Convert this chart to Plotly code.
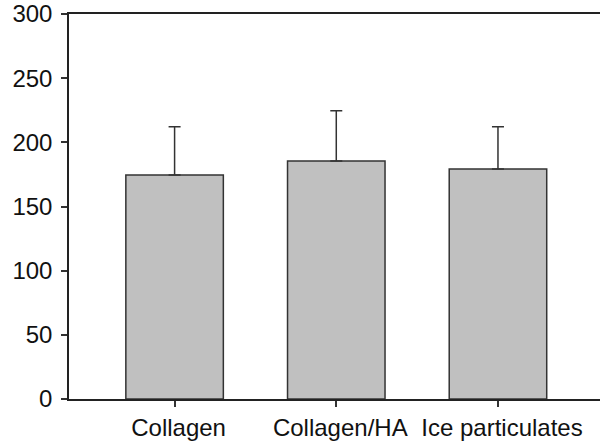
import plotly.graph_objects as go

categories = ["Collagen", "Collagen/HA", "Ice particulates"]
means = [174.6, 185.5, 179.3]
errors_plus = [37.6, 39.2, 32.9]
y_ticks = [0, 50, 100, 150, 200, 250, 300]

fig = go.Figure(go.Bar(
    x=[0, 1, 2],
    y=means,
    width=0.603,
    marker=dict(color="#c0c0c0", line=dict(color="#333333", width=1.5)),
    error_y=dict(type="data", array=errors_plus, arrayminus=[0, 0, 0],
                 symmetric=False, color="#333333", thickness=1.5, width=6),
))

fig.update_layout(
    width=600, height=441,
    margin=dict(l=69, r=0, t=14, b=42),
    paper_bgcolor="white", plot_bgcolor="white",
    showlegend=False,
    font=dict(family="Liberation Sans, Arial, sans-serif", size=24, color="#111111"),
)
fig.update_xaxes(
    range=[-0.653, 2.631],
    tickmode="array", tickvals=[0, 1, 2], ticktext=categories,
    ticks="outside", ticklen=6, tickwidth=1.5, tickcolor="#333333",
    showline=True, linecolor="#222222", linewidth=1.5, mirror=True,
    showgrid=False, zeroline=False, automargin=False,
    ticklabelshift=4,
    tickfont=dict(size=24),
)
fig.update_yaxes(
    range=[0, 300],
    tickmode="array", tickvals=y_ticks,
    ticks="outside", ticklen=6, tickwidth=1.5, tickcolor="#333333",
    showline=True, linecolor="#222222", linewidth=1.5, mirror=False,
    showgrid=False, zeroline=False, automargin=False,
    ticklabelstandoff=4,
    tickfont=dict(size=24),
)

fig.write_html(
    "out.html",
    config={"displayModeBar": False},
    post_script="document.body.style.margin='0';document.body.style.overflow='hidden';",
)
